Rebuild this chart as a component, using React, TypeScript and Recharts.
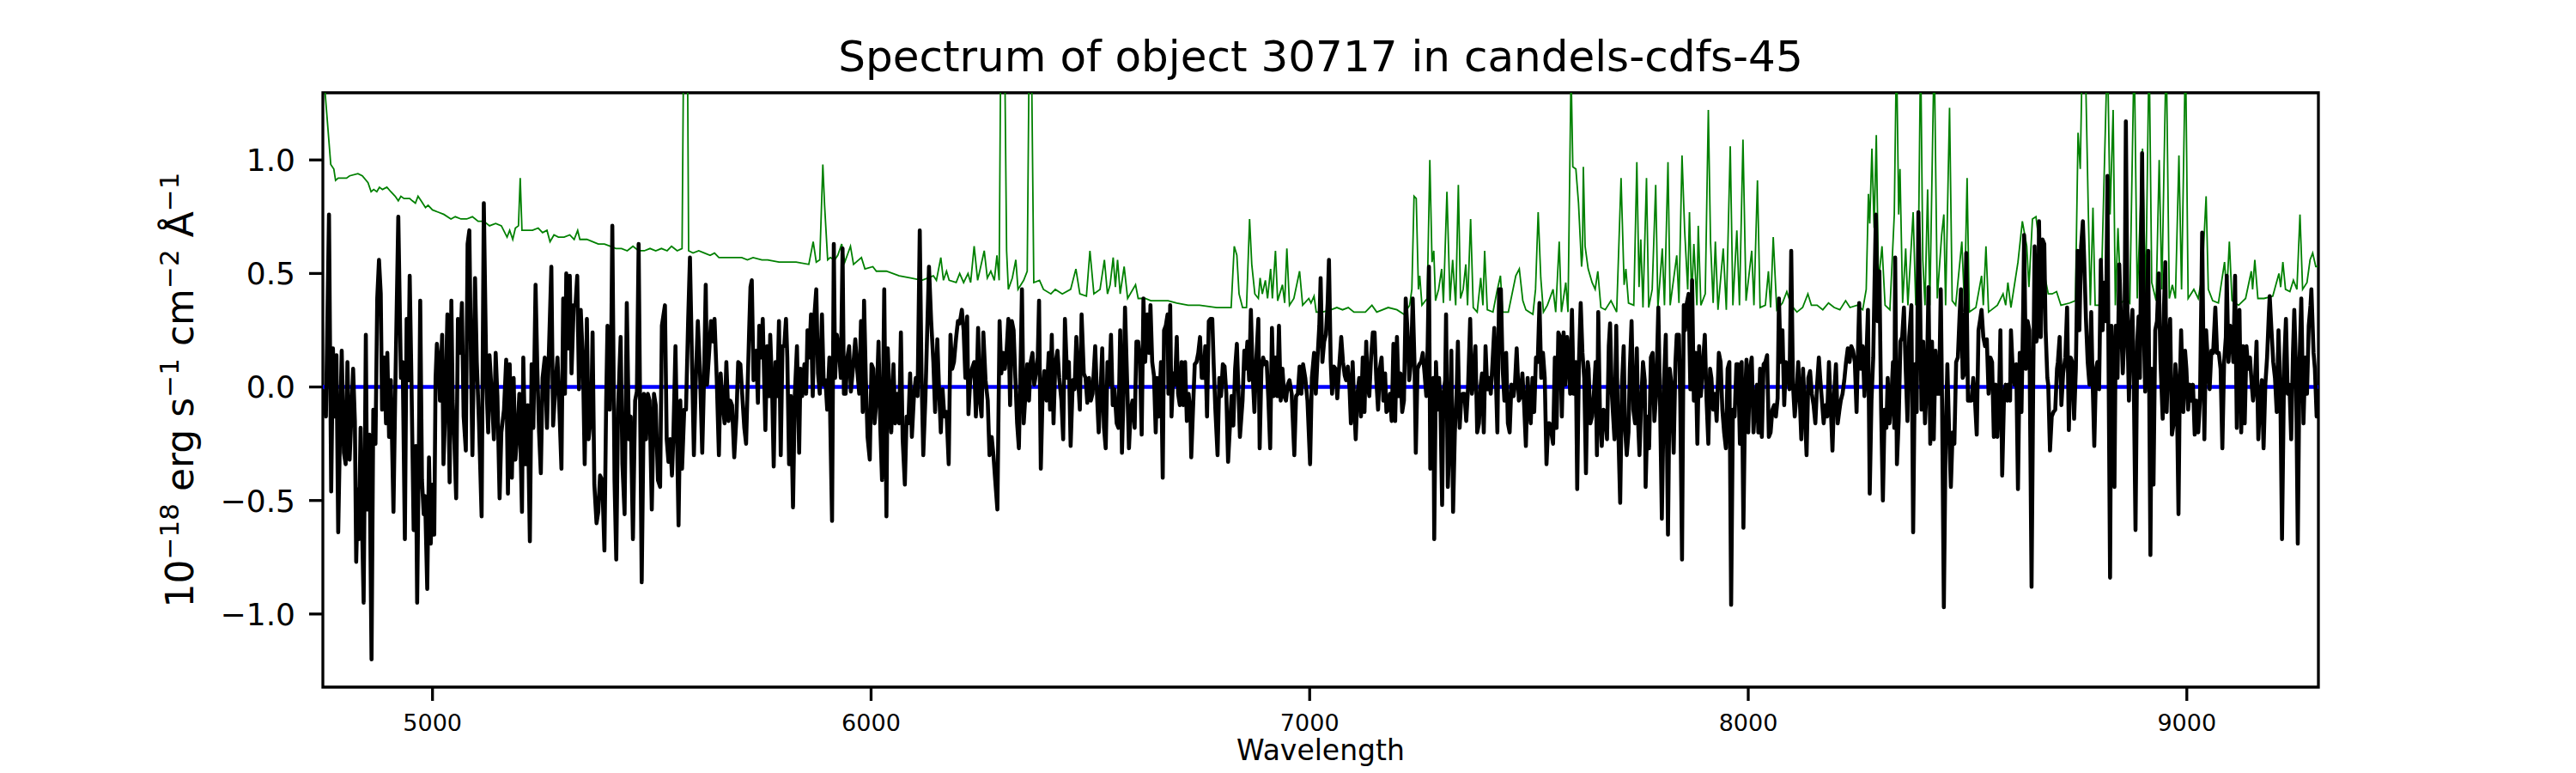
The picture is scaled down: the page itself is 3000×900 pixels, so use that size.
import React from "react";
import { LineChart, Line, XAxis, YAxis, ReferenceLine, ReferenceArea } from "recharts";

type Pt = [number, number];

// flux (black), wavelength in Angstrom / 1e-18 erg s-1 cm-2 A-1
const FLUX_A: Pt[] = [
  [4751, -0.01], [4757, -0.13], [4764, 0.76], [4769, -0.46], [4773, 0.17], [4777, -0.13], [4781, 0.14], [4785, -0.64], [4789, -0.21], [4793, 0.16],
  [4798, -0.29], [4802, -0.34], [4806, 0.11], [4811, -0.32], [4815, -0.13], [4819, 0.08], [4823, -0.15], [4826, -0.77], [4830, -0.45], [4832, -0.67],
  [4836, -0.18], [4840, -0.67], [4843, -0.95], [4848, 0.23], [4851, -0.54], [4856, -0.21], [4861, -1.2], [4865, -0.1], [4870, -0.25], [4874, 0.39],
  [4878, 0.56], [4882, 0.41], [4885, -0.1], [4890, 0.13], [4894, -0.16], [4897, 0.15], [4901, -0.22], [4905, 0.03], [4911, -0.55], [4915, -0.03],
  [4922, 0.75], [4928, 0.04], [4932, 0.11], [4937, -0.67], [4941, 0.3], [4945, 0.03], [4948, 0.49], [4952, 0.03], [4957, -0.63], [4962, -0.26],
  [4965, -0.95], [4969, -0.26], [4972, 0.38], [4976, -0.41], [4980, -0.56], [4983, -0.48], [4988, -0.89], [4992, -0.31], [4996, -0.69], [5000, -0.43],
  [5004, -0.65], [5007, 0.04], [5010, 0.19], [5014, 0.11], [5017, -0.06], [5022, 0.23], [5025, -0.34], [5029, -0.11], [5034, 0.32], [5039, -0.42],
  [5043, 0.38], [5046, -0.06], [5050, -0.25], [5054, -0.49], [5058, 0.3], [5063, 0.15], [5067, 0.37], [5071, -0.13], [5076, -0.28], [5080, 0.63],
  [5084, 0.69], [5088, 0.08], [5091, -0.3], [5097, 0.48], [5101, 0.11], [5106, -0.16], [5112, -0.57], [5117, 0.81], [5123, 0.01], [5127, -0.2],
  [5130, 0.14], [5135, -0.03], [5140, -0.23], [5144, 0.15], [5148, -0.04], [5153, -0.49], [5157, -0.2], [5163, -0.1], [5168, 0.12], [5172, -0.47],
  [5176, 0.1], [5181, -0.4], [5185, 0.04], [5189, -0.32], [5194, -0.19], [5198, -0.03], [5204, -0.55], [5207, 0.13], [5212, -0.34], [5217, -0.08],
  [5222, -0.68], [5226, 0.1], [5230, -0.18], [5235, 0.45], [5239, 0.08], [5243, -0.2], [5247, -0.38], [5251, 0.04], [5256, 0.13], [5261, -0.18],
  [5265, 0.13], [5271, 0.53], [5275, -0.17], [5281, 0.03], [5285, 0.13], [5289, -0.08], [5294, -0.36], [5298, 0.39], [5302, -0.03], [5305, 0.5],
  [5309, 0.17], [5313, 0.49], [5317, 0.06], [5322, 0.36], [5326, 0.36], [5330, 0.49], [5334, -0.01], [5338, 0.34], [5343, 0.11], [5347, -0.34],
  [5352, 0.3], [5356, -0.23], [5362, -0.11], [5365, 0.24], [5369, -0.43], [5374, -0.6], [5378, -0.55], [5382, -0.39], [5387, -0.41], [5392, -0.72],
  [5396, -0.06], [5399, 0.27], [5404, -0.1], [5408, 0.29], [5410, 0.71], [5415, -0.41], [5419, -0.76], [5423, -0.1], [5429, 0.22], [5433, -0.34],
  [5438, -0.56], [5443, 0.37], [5448, -0.23], [5452, -0.13], [5457, -0.67], [5462, -0.06], [5466, -0.02], [5470, 0.63], [5477, -0.86], [5482, -0.03],
  [5487, -0.23], [5491, -0.03], [5495, -0.06], [5500, -0.54], [5505, -0.03], [5509, -0.08], [5514, -0.41], [5519, -0.44], [5523, 0.27], [5530, 0.36],
  [5534, -0.23], [5538, -0.33], [5542, -0.23], [5546, -0.39], [5549, -0.23], [5554, 0.18], [5561, -0.61], [5565, -0.06], [5569, -0.36], [5574, -0.1],
  [5578, -0.1], [5583, 0.3], [5587, 0.57], [5591, 0.18], [5596, -0.3], [5600, 0.01], [5605, 0.29], [5610, 0.06], [5615, -0.29], [5619, 0.03],
  [5623, 0.45], [5626, 0.01], [5631, 0.16], [5635, 0.29], [5640, 0.2], [5643, 0.3], [5648, 0.04], [5653, -0.3], [5657, 0.06], [5661, -0.06],
  [5666, -0.16], [5670, 0.11], [5675, -0.15], [5679, -0.06], [5683, -0.08], [5688, -0.31], [5693, -0.13], [5697, 0.11], [5702, 0.1], [5707, -0.06],
  [5711, -0.18], [5715, -0.25],
];

const FLUX_B: Pt[] = [
  [5722, 0.25], [5725, 0.44], [5728, 0.47], [5732, 0.03], [5738, 0.16], [5742, -0.07], [5745, 0.27], [5749, 0.13], [5753, 0.3], [5757, -0.03],
  [5759, -0.19], [5763, 0.18], [5767, -0.04], [5770, 0.23], [5774, 0.02], [5778, -0.35], [5782, 0.11], [5786, -0.04], [5790, 0.29], [5794, -0.3],
  [5798, 0.18], [5802, 0.18], [5806, 0.3], [5809, 0.13], [5813, -0.34], [5817, -0.04], [5822, -0.53], [5826, -0.04], [5831, 0.18], [5836, -0.29],
  [5839, 0.08], [5843, -0.04], [5848, 0.1], [5852, -0.03], [5855, 0.25], [5859, 0.13], [5863, 0.32], [5867, -0.04], [5871, 0.32], [5875, 0.43],
  [5879, 0.06], [5883, -0.03], [5888, 0.32], [5892, 0.01], [5896, 0.03], [5900, -0.1], [5905, 0.13], [5907, -0.16], [5911, -0.59], [5915, 0.63],
  [5918, 0.04], [5922, 0.23], [5927, 0.16], [5931, 0.04], [5935, 0.61], [5938, -0.03], [5942, -0.03], [5946, 0.13], [5950, 0.18], [5954, -0.02],
  [5960, 0.11], [5964, 0.21], [5969, 0.06], [5973, -0.03], [5977, 0.29], [5981, -0.11], [5984, 0.38], [5988, 0.04], [5992, -0.22], [5997, -0.32],
  [6001, 0.1], [6005, 0.08], [6008, -0.16], [6013, -0.04], [6017, 0.2], [6021, -0.18], [6025, -0.41], [6030, 0.43], [6035, -0.57], [6038, 0.17],
  [6042, -0.03], [6046, -0.2], [6051, 0.1], [6055, -0.16], [6059, -0.03], [6064, -0.16], [6068, 0.24], [6072, -0.23], [6077, -0.43], [6081, -0.13],
  [6085, -0.16], [6089, 0.06], [6093, -0.22], [6098, -0.03], [6102, 0.04], [6106, -0.04], [6111, 0.69], [6115, 0.06], [6119, -0.3], [6124, -0.04],
  [6128, 0.25], [6132, 0.53], [6137, 0.29], [6142, 0.11], [6146, -0.11], [6151, 0.21], [6155, -0.01], [6159, -0.2], [6163, -0.01], [6167, -0.13],
  [6172, -0.11], [6177, -0.34], [6181, 0.23], [6185, 0.08], [6189, 0.11], [6194, 0.22], [6198, 0.29], [6202, 0.28], [6207, 0.34], [6211, 0.25],
  [6215, 0.04], [6219, 0.31], [6222, -0.12], [6226, 0.03], [6230, 0.08], [6235, 0.11], [6239, -0.13], [6244, 0.26], [6248, -0.06], [6252, -0.13],
  [6256, 0.24], [6261, 0.03], [6266, -0.06], [6270, -0.3], [6275, -0.22], [6279, -0.3], [6283, -0.41], [6288, -0.54], [6293, 0.29], [6297, 0.06],
  [6301, 0.15], [6305, 0.08], [6309, 0.16], [6313, 0.3], [6317, -0.08], [6321, 0.29], [6325, 0.25], [6329, 0.04], [6333, -0.16], [6337, -0.27],
  [6341, 0.11], [6344, 0.43], [6348, -0.16], [6352, -0.03], [6356, 0.1], [6360, -0.06], [6364, 0.11], [6368, 0.15], [6372, 0.01], [6376, 0.06],
  [6380, 0.13], [6383, 0.38], [6387, -0.36], [6391, -0.04], [6395, 0.07], [6400, -0.06], [6405, 0.15], [6408, -0.1], [6412, 0.23], [6416, -0.16],
  [6420, 0.1], [6425, 0.16], [6429, 0.04], [6434, -0.06], [6438, -0.23], [6442, 0.3], [6447, 0.04], [6451, 0.11], [6455, -0.26], [6460, 0.03],
  [6464, -0.01], [6468, 0.22], [6472, 0.04], [6476, -0.1], [6480, 0.32], [6485, 0.06], [6489, 0.04], [6493, -0.07], [6497, 0.04], [6501, -0.06],
  [6505, -0.03], [6511, 0.18], [6515, -0.03], [6519, -0.2], [6523, -0.03], [6527, 0.17], [6531, -0.18], [6535, -0.27], [6539, 0.11], [6543, 0.01],
  [6547, 0.23], [6551, -0.08], [6555, -0.01], [6560, -0.16], [6564, -0.18], [6568, 0.25], [6572, -0.29], [6575, -0.08], [6579, 0.35], [6584, 0.01],
  [6588, -0.27], [6592, -0.1], [6596, -0.06], [6601, -0.18], [6605, 0.2], [6609, 0.2], [6613, 0.11], [6617, -0.21], [6621, 0.39], [6625, 0.11],
  [6630, 0.32], [6634, 0.15], [6637, 0.36], [6641, 0.11], [6645, 0.05], [6649, -0.2], [6652, 0.04], [6656, -0.13], [6661, 0.11], [6665, -0.4],
  [6668, 0.25], [6672, 0.27], [6676, 0.32],
];

const FLUX_C: Pt[] = [
  [6678, -0.03], [6682, 0.36], [6685, -0.13], [6689, 0.06], [6693, 0.01], [6697, 0.22], [6700, -0.03], [6704, -0.08], [6708, 0.11], [6712, -0.08],
  [6716, 0.11], [6720, -0.15], [6724, -0.03], [6728, -0.11], [6730, -0.31], [6734, -0.1], [6738, 0.1], [6742, 0.11], [6746, 0.15], [6750, 0.22],
  [6754, 0.04], [6758, 0.04], [6762, 0.18], [6766, -0.13], [6770, 0.29], [6774, 0.3], [6778, 0.3], [6781, 0.11], [6785, -0.1], [6790, -0.3],
  [6794, 0.04], [6798, -0.04], [6802, 0.1], [6806, 0.09], [6810, -0.03], [6814, -0.33], [6818, -0.18], [6822, -0.04], [6826, -0.17], [6830, 0.08],
  [6834, 0.19], [6838, -0.04], [6841, -0.22], [6847, -0.06], [6851, 0.16], [6854, 0.08], [6858, 0.2], [6862, 0.03], [6866, 0.34], [6870, 0.06],
  [6874, -0.11], [6878, 0.11], [6883, 0.3], [6886, -0.27], [6890, 0.08], [6894, 0.13], [6898, 0.1], [6902, 0.11], [6906, -0.06], [6910, -0.27],
  [6914, 0.26], [6918, -0.04], [6922, 0.13], [6926, -0.04], [6930, 0.27], [6934, -0.06], [6938, 0.08], [6942, -0.04], [6946, -0.06], [6950, 0.01],
  [6954, 0.03], [6959, -0.03], [6965, -0.3], [6969, -0.04], [6973, -0.03], [6977, 0.09], [6981, -0.03], [6985, 0.1], [6990, 0.04], [6995, -0.06],
  [7001, -0.34], [7005, 0.04], [7010, 0.15], [7014, -0.03], [7018, 0.13], [7022, 0.27], [7025, 0.48], [7029, 0.11], [7033, 0.2], [7037, 0.23],
  [7041, 0.37], [7044, 0.56], [7048, 0.11], [7051, -0.03], [7055, 0.09], [7059, 0.08], [7063, -0.05], [7067, 0.08], [7072, 0.22], [7076, 0.11],
  [7080, 0.05], [7083, 0.03], [7087, 0.09], [7091, -0.01], [7094, -0.16], [7098, 0.11], [7102, -0.1], [7105, -0.23], [7109, -0.03], [7113, 0.04],
  [7117, -0.13], [7121, 0.13], [7125, -0.11], [7129, 0.2], [7132, 0.01], [7136, -0.04], [7140, 0.13], [7144, 0.24], [7148, 0.24], [7152, 0.03],
  [7156, -0.1], [7160, 0.08], [7164, 0.13], [7168, -0.06], [7172, 0.06], [7175, -0.11], [7179, -0.1], [7183, -0.03], [7187, -0.15], [7191, 0.19],
  [7195, -0.15], [7199, 0.22], [7203, -0.04], [7207, 0.06], [7211, -0.11], [7215, -0.06], [7219, 0.39], [7223, 0.25], [7227, 0.03], [7231, 0.11],
  [7235, 0.39], [7239, 0.11], [7242, -0.29], [7246, 0.08], [7250, 0.1], [7254, 0.11], [7258, 0.15], [7262, 0.06], [7266, -0.04], [7269, 0.18],
  [7272, 0.53], [7275, -0.36], [7279, -0.03], [7282, 0.04], [7284, -0.67], [7288, 0.11], [7292, -0.1], [7295, 0.04], [7298, -0.06], [7302, -0.52],
  [7305, -0.03], [7309, 0.03], [7311, 0.32], [7315, -0.44], [7319, -0.23], [7323, 0.16], [7327, -0.55], [7331, -0.2], [7335, -0.03], [7338, 0.2],
  [7342, -0.18], [7346, -0.04], [7349, -0.03], [7353, -0.03], [7357, -0.15], [7361, -0.01], [7366, 0.3], [7370, -0.03], [7374, 0.04], [7378, 0.18],
  [7382, -0.2], [7386, -0.16], [7390, 0.01], [7393, 0.06], [7397, -0.2], [7401, 0.18], [7405, -0.01], [7409, 0.04], [7413, -0.03], [7417, 0.11],
  [7421, 0.26], [7425, 0.01], [7428, -0.2], [7432, 0.43], [7436, 0.43], [7440, 0.08], [7444, -0.06], [7448, 0.15], [7452, -0.16], [7456, -0.2],
  [7460, 0.01], [7465, -0.04], [7468, 0.01], [7472, 0.17], [7477, -0.06], [7481, -0.04], [7485, 0.06], [7489, -0.08], [7493, -0.26], [7497, 0.04],
  [7500, -0.06], [7504, -0.16], [7508, 0.04], [7512, -0.11], [7516, 0.13], [7520, 0.11], [7524, 0.37], [7528, 0.04], [7532, 0.15], [7536, 0.04],
  [7540, -0.34], [7544, -0.16], [7547, -0.16], [7551, -0.2], [7555, -0.25], [7559, 0.13], [7563, -0.18], [7567, 0.24], [7571, 0.22], [7575, -0.13],
  [7579, 0.24], [7583, 0.01], [7587, 0.22], [7591, 0.11], [7594, -0.03], [7598, 0.34], [7602, -0.03], [7607, 0.11], [7610, -0.45], [7614, 0.11],
  [7618, 0.37], [7622, 0.15], [7626, 0.04], [7630, -0.38], [7634, 0.11],
];

const FLUX_D: Pt[] = [
  [7636, 0.08], [7640, -0.16], [7644, -0.13], [7648, -0.03], [7652, 0.11], [7655, -0.3], [7658, 0.33], [7662, -0.13], [7666, -0.26], [7670, -0.1],
  [7674, -0.11], [7678, -0.23], [7682, 0.18], [7685, 0.28], [7689, -0.03], [7695, -0.23], [7699, 0.27], [7702, -0.06], [7708, -0.51], [7712, 0.01],
  [7716, 0.18], [7719, -0.18], [7723, -0.3], [7727, -0.2], [7730, 0.08], [7734, 0.29], [7738, -0.1], [7742, -0.16], [7746, 0.17], [7749, -0.16],
  [7752, -0.3], [7756, -0.06], [7760, 0.11], [7764, 0.03], [7766, -0.44], [7770, -0.13], [7774, -0.27], [7778, 0.13], [7782, 0.15], [7786, -0.15],
  [7790, -0.03], [7795, 0.35], [7799, -0.08], [7803, -0.58], [7808, 0.03], [7812, 0.23], [7817, -0.65], [7821, 0.08], [7825, 0.01], [7830, -0.29],
  [7834, 0.11], [7837, 0.23], [7842, 0.23], [7845, -0.06], [7849, -0.76], [7853, 0.36], [7856, 0.25], [7860, 0.37], [7864, 0.41], [7868, -0.01],
  [7872, 0.47], [7876, -0.06], [7880, 0.15], [7884, -0.25], [7888, 0.18], [7892, -0.04], [7897, 0.11], [7901, 0.23], [7905, -0.06], [7909, -0.25],
  [7913, 0.08], [7916, 0.04], [7920, -0.1], [7924, -0.03], [7928, -0.15], [7933, 0.15], [7937, 0.11], [7941, -0.1], [7945, -0.2], [7949, -0.27],
  [7953, 0.08], [7957, 0.11], [7961, -0.96], [7965, -0.1], [7969, -0.13], [7973, 0.1], [7977, 0.1], [7981, -0.25], [7985, 0.11], [7989, -0.62],
  [7993, -0.03], [7996, 0.12], [8000, -0.2], [8004, 0.08], [8008, 0.13], [8012, -0.2], [8016, -0.06], [8020, 0.01], [8023, -0.2], [8027, 0.08],
  [8031, -0.22], [8035, 0.1], [8039, 0.11], [8043, 0.14], [8047, -0.22], [8051, -0.2], [8055, -0.1], [8059, -0.08], [8063, -0.13], [8067, -0.05],
  [8070, 0.39], [8074, 0.11], [8078, 0.25], [8082, -0.08], [8086, 0.11], [8090, 0.08], [8094, -0.01], [8098, 0.6], [8102, 0.01], [8106, -0.13],
  [8110, -0.03], [8114, 0.11], [8117, -0.03], [8121, -0.23], [8125, 0.08], [8129, -0.1], [8133, -0.3], [8137, 0.04], [8141, 0.07], [8145, -0.03],
  [8149, -0.08], [8153, -0.16], [8157, 0.01], [8161, 0.13], [8164, 0.04], [8168, -0.06], [8172, -0.16], [8176, -0.08], [8180, -0.13], [8184, 0.11],
  [8188, -0.08], [8192, -0.28], [8196, -0.03], [8200, 0.1], [8204, -0.16], [8208, -0.1], [8211, -0.06], [8215, -0.03], [8219, 0.03], [8223, 0.11],
  [8227, 0.17], [8231, 0.11], [8235, 0.18], [8239, 0.16], [8243, 0.11], [8247, -0.11], [8251, 0.22], [8253, 0.37], [8257, 0.08], [8261, 0.18],
  [8265, -0.04], [8269, 0.11], [8273, 0.34], [8277, -0.47], [8281, -0.06], [8285, 0.13], [8288, 0.46], [8291, 0.76], [8295, 0.29], [8299, 0.51],
  [8303, -0.1], [8307, -0.5], [8311, -0.1], [8315, -0.18], [8318, 0.04], [8322, -0.16], [8326, -0.06], [8330, 0.11], [8333, -0.18], [8335, 0.57],
  [8339, -0.34], [8343, -0.15], [8347, 0.2], [8351, 0.22], [8355, 0.35], [8359, 0.08], [8363, -0.15], [8367, 0.22], [8372, 0.36], [8376, -0.64],
  [8380, 0.1], [8384, -0.11], [8388, 0.77], [8392, 0.37], [8395, -0.1], [8399, 0.2], [8403, -0.16], [8407, 0.01], [8411, 0.44], [8415, -0.25],
  [8419, 0.2], [8423, -0.23], [8427, 0.16], [8431, -0.03], [8435, -0.03], [8439, 0.43], [8442, -0.08], [8446, -0.97], [8450, -0.23], [8454, 0.1],
  [8458, -0.2], [8462, -0.44], [8466, -0.2], [8470, -0.25], [8474, 0.11], [8478, 0.13], [8482, 0.32], [8485, 0.43], [8489, 0.04], [8493, 0.06],
  [8497, 0.59], [8501, -0.06], [8505, -0.06], [8509, -0.06], [8513, 0.04], [8517, -0.06], [8521, -0.21], [8525, 0.25], [8529, 0.3], [8532, 0.34],
  [8536, 0.22], [8540, 0.18], [8544, 0.21], [8548, -0.03], [8552, 0.13], [8556, 0.11], [8560, -0.22], [8564, 0.01], [8568, -0.22], [8572, -0.03],
  [8575, 0.25], [8579, -0.39], [8583, -0.06], [8587, 0.01], [8591, -0.06],
];

const FLUX_E: Pt[] = [
  [8593, 0.01], [8597, -0.06], [8599, 0.25], [8603, 0.08], [8607, 0.01], [8611, 0.1], [8615, -0.45], [8619, 0.15], [8623, -0.11], [8627, 0.36],
  [8629, 0.67], [8633, 0.08], [8637, 0.29], [8641, 0.25], [8646, -0.88], [8650, 0.08], [8653, 0.62], [8657, 0.2], [8661, 0.25], [8663, 0.73],
  [8667, 0.22], [8671, 0.65], [8675, 0.63], [8678, 0.25], [8682, 0.04], [8684, 0.01], [8688, -0.28], [8692, -0.13], [8696, -0.11], [8700, -0.1],
  [8704, 0.08], [8706, 0.11], [8710, 0.22], [8714, -0.08], [8718, 0.06], [8723, 0.13], [8727, 0.35], [8731, -0.19], [8735, 0.13], [8739, 0.11],
  [8743, -0.14], [8747, 0.08], [8751, 0.6], [8755, 0.25], [8759, 0.62], [8763, 0.73], [8766, 0.56], [8770, 0.3], [8774, 0.11], [8778, 0.01],
  [8782, 0.33], [8785, 0.04], [8789, -0.26], [8793, 0.08], [8796, 0.11], [8800, -0.01], [8804, 0.56], [8808, 0.25], [8812, 0.46], [8816, 0.29],
  [8819, 0.93], [8821, 0.25], [8825, -0.84], [8828, 0.27], [8832, 0.04], [8835, -0.44], [8838, 0.27], [8842, 0.04], [8846, 0.54], [8850, 0.29],
  [8854, 0.06], [8858, 0.25], [8861, 1.17], [8865, 0.22], [8868, -0.06], [8872, 0.25], [8876, 0.34], [8879, 0.03], [8883, -0.63], [8887, 0.2],
  [8890, 0.31], [8893, 0.04], [8898, 1.03], [8902, 0.25], [8905, -0.02], [8909, 0.29], [8912, 0.6], [8917, -0.74], [8920, 0.08], [8924, -0.43],
  [8928, 0.25], [8932, 0.29], [8936, 0.5], [8940, 0.11], [8945, -0.14], [8948, 0.36], [8951, 0.55], [8954, -0.11], [8958, 0.15], [8962, 0.3],
  [8966, -0.21], [8970, -0.16], [8974, 0.1], [8977, 0.01], [8981, -0.56], [8984, 0.01], [8987, 0.25], [8992, -0.11], [8996, 0.16], [8999, 0.08],
  [9003, -0.1], [9007, 0.01], [9011, -0.06], [9014, 0.01], [9018, -0.21], [9022, -0.06], [9026, -0.2], [9030, -0.06], [9035, 0.68], [9040, -0.23],
  [9044, 0.25], [9048, 0.11], [9052, -0.01], [9056, 0.16], [9060, 0.15], [9065, 0.35], [9069, 0.15], [9073, 0.15], [9077, 0.08], [9081, -0.27],
  [9085, 0.11], [9089, 0.22], [9091, 0.49], [9095, 0.11], [9099, 0.27], [9103, 0.22], [9106, 0.11], [9110, 0.49], [9114, -0.18], [9116, 0.25],
  [9120, 0.34], [9124, -0.2], [9128, 0.18], [9132, -0.16], [9136, 0.18], [9140, 0.08], [9144, 0.13], [9148, 0.01], [9151, -0.06], [9155, 0.01],
  [9159, 0.2], [9163, -0.23], [9167, -0.06], [9171, 0.03], [9175, -0.27], [9179, 0.01], [9183, 0.13], [9187, 0.32], [9189, 0.4], [9193, 0.25],
  [9197, 0.11], [9201, 0.04], [9205, -0.11], [9209, 0.25], [9213, 0.01], [9217, -0.67], [9222, 0.11], [9226, 0.3], [9230, -0.03], [9234, 0.01],
  [9238, -0.23], [9242, 0.15], [9245, 0.34], [9249, 0.08], [9253, -0.69], [9257, 0.11], [9261, 0.39], [9266, -0.16], [9270, 0.13], [9274, -0.03],
  [9278, 0.27], [9282, 0.36], [9284, 0.43], [9289, 0.15], [9292, 0.08], [9296, -0.13], [9300, -0.13],
];

// noise (green)
const ERR_A: Pt[] = [
  [4751, 1.45], [4755, 1.3], [4768, 0.98], [4775, 0.96], [4779, 0.91], [4785, 0.92], [4804, 0.92], [4811, 0.93], [4830, 0.94], [4840, 0.93],
  [4853, 0.9], [4860, 0.86], [4866, 0.87], [4873, 0.86], [4879, 0.88], [4886, 0.87], [4896, 0.88], [4905, 0.86], [4915, 0.84], [4922, 0.82],
  [4928, 0.84], [4935, 0.83], [4948, 0.83], [4954, 0.82], [4961, 0.81], [4967, 0.84], [4974, 0.82], [4984, 0.79], [4990, 0.8], [5000, 0.78],
  [5013, 0.77], [5026, 0.76], [5042, 0.74], [5052, 0.75], [5065, 0.74], [5078, 0.74], [5091, 0.75], [5104, 0.73], [5117, 0.73], [5130, 0.71],
  [5144, 0.72], [5157, 0.71], [5170, 0.66], [5176, 0.69], [5183, 0.65], [5189, 0.7], [5196, 0.71], [5200, 0.92], [5204, 0.69], [5215, 0.69],
  [5228, 0.69], [5241, 0.7], [5251, 0.68], [5261, 0.69], [5268, 0.64], [5277, 0.67], [5287, 0.66], [5300, 0.66], [5313, 0.67], [5323, 0.65],
  [5331, 0.69], [5336, 0.65], [5352, 0.65], [5365, 0.64], [5378, 0.63], [5392, 0.63], [5405, 0.62], [5418, 0.61], [5431, 0.61], [5444, 0.6],
  [5457, 0.62], [5470, 0.6], [5483, 0.6], [5496, 0.61], [5509, 0.6], [5522, 0.61], [5535, 0.6], [5545, 0.62], [5558, 0.6], [5569, 0.61],
  [5573, 1.6], [5581, 1.6], [5584, 0.6], [5594, 0.59], [5607, 0.6], [5620, 0.59], [5633, 0.58], [5643, 0.59], [5653, 0.57], [5666, 0.57],
  [5679, 0.57], [5692, 0.57], [5705, 0.57],
];

const ERR_B: Pt[] = [
  [5718, 0.56], [5731, 0.57], [5751, 0.56], [5764, 0.56], [5790, 0.55], [5829, 0.55], [5858, 0.54], [5868, 0.64], [5875, 0.55], [5883, 0.56],
  [5890, 0.98], [5894, 0.8], [5901, 0.56], [5907, 0.57], [5917, 0.56], [5924, 0.58], [5933, 0.63], [5940, 0.55], [5953, 0.62], [5960, 0.54],
  [5978, 0.57], [5986, 0.52], [6004, 0.53], [6012, 0.51], [6035, 0.51], [6064, 0.49], [6090, 0.48], [6116, 0.47], [6142, 0.49], [6149, 0.47],
  [6159, 0.57], [6165, 0.47], [6172, 0.51], [6178, 0.47], [6194, 0.46], [6202, 0.5], [6211, 0.46], [6221, 0.5], [6227, 0.46], [6235, 0.62],
  [6243, 0.47], [6258, 0.6], [6265, 0.48], [6273, 0.51], [6281, 0.47], [6287, 0.58], [6292, 0.47], [6296, 1.6], [6304, 1.6], [6309, 0.6],
  [6313, 0.43], [6322, 0.48], [6330, 0.56], [6335, 0.43], [6348, 0.47], [6356, 0.51], [6361, 1.6], [6365, 1.6], [6371, 0.46], [6384, 0.47],
  [6393, 0.43], [6410, 0.41], [6420, 0.43], [6436, 0.41], [6455, 0.43], [6467, 0.52], [6476, 0.41], [6491, 0.4], [6499, 0.6], [6508, 0.41],
  [6522, 0.43], [6532, 0.56], [6539, 0.41], [6545, 0.45], [6552, 0.57], [6557, 0.44], [6562, 0.56], [6568, 0.41], [6577, 0.53], [6585, 0.39],
  [6603, 0.45], [6609, 0.39], [6625, 0.39], [6638, 0.38], [6658, 0.38],
];

const ERR_C: Pt[] = [
  [6677, 0.38], [6697, 0.37], [6723, 0.36], [6749, 0.36], [6788, 0.35], [6821, 0.35], [6828, 0.62], [6834, 0.58], [6839, 0.41], [6847, 0.35],
  [6856, 0.35], [6863, 0.74], [6868, 0.54], [6875, 0.41], [6883, 0.39], [6887, 0.48], [6892, 0.41], [6899, 0.47], [6904, 0.39], [6911, 0.52],
  [6915, 0.39], [6922, 0.6], [6927, 0.38], [6938, 0.45], [6943, 0.37], [6948, 0.61], [6954, 0.36], [6964, 0.39], [6977, 0.51], [6984, 0.36],
  [6998, 0.39], [7003, 0.37], [7010, 0.4], [7015, 0.33], [7029, 0.33], [7049, 0.34], [7062, 0.35], [7075, 0.34], [7088, 0.35], [7101, 0.33],
  [7127, 0.33], [7142, 0.36], [7153, 0.33], [7179, 0.35], [7199, 0.34], [7215, 0.32], [7228, 0.36], [7233, 0.43], [7238, 0.84], [7243, 0.83],
  [7248, 0.43], [7251, 0.49], [7256, 0.36], [7268, 0.39], [7274, 1.0], [7279, 0.55], [7283, 0.6], [7287, 0.38], [7294, 0.43], [7301, 0.52],
  [7305, 0.37], [7313, 0.86], [7320, 0.38], [7326, 0.56], [7333, 0.36], [7339, 0.89], [7344, 0.39], [7350, 0.43], [7356, 0.54], [7360, 0.36],
  [7367, 0.74], [7373, 0.35], [7382, 0.33], [7390, 0.48], [7395, 0.36], [7399, 0.6], [7405, 0.34], [7418, 0.33], [7427, 0.42], [7435, 0.49],
  [7440, 0.33], [7453, 0.33], [7470, 0.49], [7478, 0.52], [7486, 0.38], [7493, 0.34], [7509, 0.32], [7515, 0.43], [7521, 0.77], [7527, 0.48],
  [7533, 0.33], [7542, 0.36], [7555, 0.43], [7561, 0.33], [7569, 0.64], [7574, 0.33], [7584, 0.46], [7589, 0.33], [7596, 1.4], [7600, 0.97],
  [7607, 0.96], [7613, 0.81], [7620, 0.53],
];

const ERR_D: Pt[] = [
  [7622, 0.58], [7624, 0.97], [7628, 0.62], [7635, 0.52], [7644, 0.46], [7651, 0.43], [7657, 0.51], [7664, 0.35], [7674, 0.34], [7687, 0.38],
  [7700, 0.33], [7710, 0.92], [7717, 0.45], [7721, 0.52], [7727, 0.37], [7739, 0.36], [7746, 0.99], [7751, 0.44], [7755, 0.65], [7760, 0.35],
  [7768, 0.92], [7773, 0.35], [7781, 0.43], [7789, 0.89], [7794, 0.35], [7804, 0.61], [7809, 0.36], [7817, 0.99], [7822, 0.36], [7837, 0.58],
  [7842, 0.37], [7849, 1.02], [7855, 0.69], [7862, 0.43], [7866, 0.77], [7871, 0.39], [7876, 0.63], [7883, 0.36], [7886, 0.71], [7892, 0.36],
  [7902, 0.41], [7909, 1.22], [7914, 0.64], [7920, 0.37], [7925, 0.64], [7931, 0.34], [7943, 0.61], [7950, 0.34], [7959, 1.06], [7965, 0.36],
  [7974, 0.69], [7980, 0.36], [7988, 1.09], [7995, 0.38], [8008, 0.6], [8013, 0.36], [8021, 0.91], [8027, 0.35], [8039, 0.36], [8046, 0.51],
  [8051, 0.35], [8057, 0.66], [8065, 0.34], [8078, 0.37], [8088, 0.42], [8098, 0.36], [8111, 0.33], [8124, 0.35], [8136, 0.41], [8144, 0.36],
  [8157, 0.36], [8170, 0.34], [8183, 0.37], [8196, 0.35], [8209, 0.34], [8222, 0.38], [8232, 0.35], [8248, 0.36], [8261, 0.34], [8269, 0.43],
  [8274, 0.85], [8277, 0.72], [8282, 1.05], [8287, 0.7], [8292, 1.11], [8297, 0.46], [8305, 0.62], [8312, 0.36], [8323, 0.34], [8333, 0.76],
  [8338, 1.5], [8343, 0.76], [8346, 0.96], [8352, 0.37], [8359, 0.61], [8364, 0.36], [8376, 0.77], [8382, 0.36], [8388, 0.6], [8393, 1.5],
  [8398, 0.56], [8403, 0.36], [8409, 0.87], [8414, 0.36], [8424, 1.5], [8431, 0.39], [8441, 0.67], [8446, 0.76], [8450, 0.36], [8459, 1.23],
  [8465, 0.38], [8473, 0.36], [8487, 0.64], [8493, 0.36], [8499, 0.92], [8504, 0.33], [8519, 0.35], [8532, 0.49], [8536, 0.36], [8542, 0.62],
  [8548, 0.33], [8568, 0.36], [8581, 0.41], [8587, 0.36],
];

const ERR_E: Pt[] = [
  [8592, 0.46], [8599, 0.35], [8615, 0.55], [8625, 0.73], [8635, 0.62], [8640, 0.44], [8648, 0.74], [8656, 0.75], [8664, 0.63], [8674, 0.51],
  [8684, 0.41], [8693, 0.41], [8703, 0.42], [8713, 0.36], [8733, 0.37], [8746, 0.38], [8752, 1.12], [8757, 0.96], [8762, 1.5], [8768, 1.5],
  [8775, 0.81], [8780, 0.36], [8786, 0.79], [8791, 0.36], [8804, 0.36], [8819, 1.5], [8825, 0.76], [8832, 1.22], [8837, 0.36], [8843, 0.7],
  [8850, 0.37], [8862, 0.39], [8870, 0.37], [8880, 1.5], [8887, 0.39], [8899, 1.05], [8906, 0.38], [8914, 1.5], [8920, 0.46], [8930, 0.38],
  [8937, 1.0], [8943, 0.43], [8953, 1.5], [8960, 0.39], [8967, 0.45], [8974, 0.39], [8982, 1.02], [8988, 0.43], [8997, 1.5], [9003, 0.39],
  [9016, 0.43], [9026, 0.39], [9035, 0.49], [9044, 0.84], [9049, 0.43], [9059, 0.38], [9072, 0.37], [9086, 0.55], [9091, 0.41], [9097, 0.64],
  [9103, 0.38], [9118, 0.36], [9134, 0.39], [9147, 0.51], [9150, 0.43], [9155, 0.56], [9162, 0.39], [9176, 0.39], [9196, 0.4], [9210, 0.5],
  [9214, 0.44], [9219, 0.55], [9225, 0.43], [9235, 0.42], [9243, 0.47], [9251, 0.43], [9258, 0.76], [9264, 0.43], [9274, 0.46], [9281, 0.56],
  [9287, 0.59], [9294, 0.53], [9299, 0.53],
];

const X_DOMAIN: [number, number] = [4750, 9300];
const Y_DOMAIN: [number, number] = [-1.322, 1.296];
const X_TICKS = [5000, 6000, 7000, 8000, 9000];
const Y_TICKS = [-1, -0.5, 0, 0.5, 1];

const TITLE = "Spectrum of object 30717 in candels-cdfs-45";
const X_LABEL = "Wavelength";

const FONT = "DejaVu Sans";

const toRows = (parts: Pt[][]) => parts.flat().map(([wave, value]) => ({ wave, value }));

const fluxData = toRows([FLUX_A, FLUX_B, FLUX_C, FLUX_D, FLUX_E]);
const errData = toRows([ERR_A, ERR_B, ERR_C, ERR_D, ERR_E]);

const fmtY = (v: number) => v.toFixed(1).replace("-", "\u2212");

const App = () => {
  return (
    <div style={{ position: "fixed", left: 0, top: 0, background: "#fff" }}>
      <LineChart width={3000} height={900} margin={{ top: 108, right: 300, bottom: 99, left: 375 }}>
        <XAxis
          type="number"
          dataKey="wave"
          domain={X_DOMAIN}
          ticks={X_TICKS}
          interval={0}
          allowDataOverflow
          height={1}
          axisLine={false}
          tickSize={16}
          tickMargin={16}
          tickLine={{ stroke: "#000", strokeWidth: 3.3 }}
          tick={{ fontSize: 27, fill: "#000", fontFamily: FONT }}
        />
        <YAxis
          type="number"
          domain={Y_DOMAIN}
          ticks={Y_TICKS}
          interval={0}
          allowDataOverflow
          width={1}
          axisLine={false}
          tickSize={16}
          tickMargin={16}
          tickLine={{ stroke: "#000", strokeWidth: 3.3 }}
          tick={{ fontSize: 36, fill: "#000", fontFamily: FONT }}
          tickFormatter={fmtY}
        />
        <ReferenceLine y={0} stroke="#0000ff" strokeWidth={4.4} />
        <Line
          data={errData}
          dataKey="value"
          type="linear"
          stroke="#008000"
          strokeWidth={1.8}
          dot={false}
          activeDot={false}
          isAnimationActive={false}
        />
        <Line
          data={fluxData}
          dataKey="value"
          type="linear"
          stroke="#000000"
          strokeWidth={4.6}
          strokeLinejoin="round"
          dot={false}
          activeDot={false}
          isAnimationActive={false}
        />
        <ReferenceArea
          x1={X_DOMAIN[0]}
          x2={X_DOMAIN[1]}
          y1={Y_DOMAIN[0]}
          y2={Y_DOMAIN[1]}
          fill="none"
          stroke="#000"
          strokeWidth={3.3}
        />
        <text x={1538} y={83} textAnchor="middle" fontSize={50} fontFamily={FONT} fill="#000">
          {TITLE}
        </text>
        <text x={1538} y={885} textAnchor="middle" fontSize={33} fontFamily={FONT} fill="#000">
          {X_LABEL}
        </text>
        {/* y label with superscripts, rotated */}
        <text
          x={225}
          y={454}
          transform="rotate(-90 225 454)"
          textAnchor="middle"
          fontSize={44}
          fontFamily={FONT}
          fill="#000"
        >
          10
          <tspan fontSize={31} dy={-17}>{"\u221218"}</tspan>
          <tspan dy={17}>{" erg s"}</tspan>
          <tspan fontSize={31} dy={-17}>{"\u22121"}</tspan>
          <tspan dy={17}>{" cm"}</tspan>
          <tspan fontSize={31} dy={-17}>{"\u22122"}</tspan>
          <tspan dy={17}>{" \u00c5"}</tspan>
          <tspan fontSize={31} dy={-17}>{"\u22121"}</tspan>
        </text>
      </LineChart>
    </div>
  );
};

export default App;
